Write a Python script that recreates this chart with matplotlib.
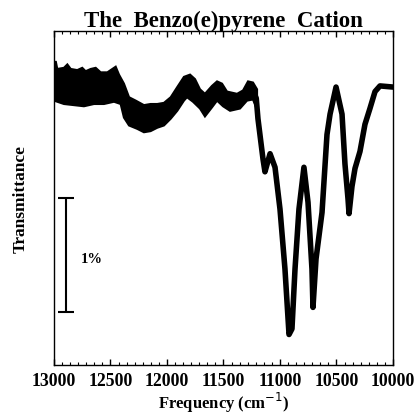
import matplotlib
matplotlib.use("Agg")
import matplotlib.pyplot as plt
import numpy as np
from matplotlib.ticker import MultipleLocator

# Noisy region of the spectrum: upper and lower edges of the trace (cm-1, % units)
top_freq = [13000, 12985, 12971, 12912, 12882, 12852, 12794, 12750, 12720, 12675,
            12631, 12587, 12528, 12454, 12425, 12381, 12336, 12277, 12204, 12145,
            12086, 12027, 11967, 11909, 11850, 11796, 11752, 11708, 11664, 11602,
            11557, 11513, 11469, 11380, 11327, 11283, 11239, 11203]
top_trans = [2.62, 2.69, 2.62, 2.63, 2.66, 2.62, 2.61, 2.63, 2.60, 2.62,
             2.63, 2.59, 2.59, 2.64, 2.57, 2.49, 2.37, 2.34, 2.30, 2.31,
             2.31, 2.32, 2.37, 2.46, 2.55, 2.57, 2.53, 2.44, 2.40, 2.47,
             2.51, 2.49, 2.42, 2.40, 2.43, 2.51, 2.50, 2.44]
bot_freq = [13000, 12912, 12823, 12735, 12646, 12558, 12469, 12410, 12381, 12336,
            12263, 12204, 12145, 12086, 12027, 11967, 11909, 11850, 11823, 11770,
            11708, 11664, 11602, 11557, 11504, 11442, 11354, 11292, 11239, 11203]
bot_trans = [2.34, 2.31, 2.30, 2.29, 2.31, 2.31, 2.33, 2.31, 2.19, 2.12,
             2.09, 2.06, 2.07, 2.10, 2.12, 2.18, 2.25, 2.34, 2.37, 2.33,
             2.27, 2.20, 2.28, 2.34, 2.29, 2.25, 2.27, 2.34, 2.35, 2.26]

# Band region: centre of the trace
band_freq = [11239, 11210, 11195, 11150, 11133, 11088, 11044, 11000, 10956, 10920,
             10894, 10867, 10832, 10788, 10752, 10717, 10708, 10681, 10628, 10584,
             10557, 10504, 10451, 10425, 10398, 10389, 10363, 10336, 10292, 10248,
             10204, 10159, 10115, 10000]
band_trans = [2.43, 2.36, 2.18, 1.82, 1.71, 1.87, 1.75, 1.38, 0.85, 0.27,
              0.32, 0.85, 1.38, 1.75, 1.44, 0.85, 0.51, 0.94, 1.35, 2.04,
              2.22, 2.46, 2.22, 1.78, 1.47, 1.34, 1.58, 1.74, 1.89, 2.13,
              2.27, 2.42, 2.47, 2.46]

# 1 % scale bar
bar_freq = 12894
bar_low, bar_high = 0.47, 1.48

serif = "Liberation Serif"

fig = plt.figure(figsize=(4.17, 4.14), dpi=100)
ax = fig.add_axes([0.1295, 0.1159, 0.8129, 0.8068])

ax.fill(np.concatenate([top_freq, bot_freq[::-1]]),
        np.concatenate([top_trans, bot_trans[::-1]]),
        color="black", lw=1.5, edgecolor="black")
ax.plot(band_freq, band_trans, color="black", lw=4.0, solid_capstyle="round",
        solid_joinstyle="round")

ax.errorbar([bar_freq], [(bar_low + bar_high) / 2], yerr=[(bar_high - bar_low) / 2],
            color="black", lw=1.5, capsize=6, capthick=1.5)
ax.text(bar_freq - 130, 0.94, "1%", family=serif, weight="bold", fontsize=10.5,
        va="center", ha="left")

ax.set_xlim(13000, 10000)
ax.set_ylim(0, 2.956)
ax.xaxis.set_major_locator(MultipleLocator(500))
ax.xaxis.set_minor_locator(MultipleLocator(500 / 7))
ax.tick_params(axis="x", which="both", direction="in", top=True, bottom=True)
ax.tick_params(axis="x", which="major", length=4, width=1, pad=5)
ax.tick_params(axis="x", which="minor", length=2.5, width=0.8)
ax.set_yticks([])
for lab in ax.get_xticklabels():
    lab.set_family(serif)
    lab.set_fontsize(12.8)
    lab.set_weight("bold")
for s in ax.spines.values():
    s.set_linewidth(1)

ax.set_title("The  Benzo(e)pyrene  Cation", family=serif, weight="bold",
             fontsize=16.5, pad=3)
ax.set_xlabel("Frequency (cm$^{-1}$)", family=serif, weight="bold", fontsize=12,
              labelpad=1)
ax.set_ylabel("Transmittance", family=serif, weight="bold", fontsize=12.5,
              labelpad=18)

fig.savefig("out.png", dpi=100)
